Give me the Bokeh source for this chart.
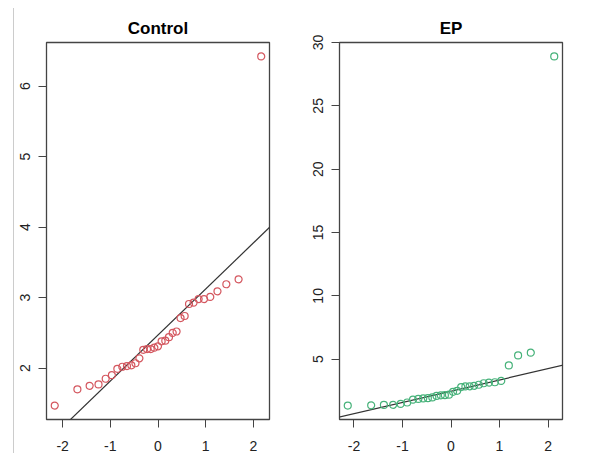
import numpy as np
from bokeh.plotting import figure
from bokeh.layouts import row
from bokeh.models import Div, FixedTicker
from bokeh.embed import file_html
from bokeh.resources import INLINE

# Control: theoretical normal quantiles (n=33) and sorted sample values
control_theoretical = [-2.166, -1.691, -1.434, -1.248, -1.097, -0.967, -0.853, -0.748, -0.651,
                       -0.559, -0.473, -0.390, -0.309, -0.230, -0.153, -0.076, 0.0, 0.076,
                       0.153, 0.230, 0.309, 0.390, 0.473, 0.559, 0.651, 0.748, 0.853, 0.967,
                       1.097, 1.248, 1.434, 1.691, 2.166]
control_sample = [1.47, 1.70, 1.75, 1.77, 1.85, 1.90, 1.99, 2.02, 2.03, 2.04, 2.07, 2.14,
                  2.26, 2.27, 2.27, 2.29, 2.31, 2.38, 2.39, 2.44, 2.50, 2.52, 2.71, 2.74,
                  2.91, 2.93, 2.98, 2.98, 3.01, 3.09, 3.19, 3.26, 6.42]

# EP: theoretical normal quantiles (n=30) and sorted sample values
ep_theoretical = [-2.128, -1.645, -1.383, -1.192, -1.036, -0.903, -0.783, -0.674, -0.573,
                  -0.477, -0.385, -0.297, -0.210, -0.126, -0.042, 0.042, 0.126, 0.210,
                  0.297, 0.385, 0.477, 0.573, 0.674, 0.783, 0.903, 1.036, 1.192, 1.383,
                  1.645, 2.128]
ep_sample = [1.34, 1.36, 1.39, 1.40, 1.47, 1.58, 1.80, 1.86, 1.90, 1.92, 1.98, 2.10, 2.15,
             2.16, 2.20, 2.42, 2.50, 2.80, 2.85, 2.86, 2.90, 2.98, 3.10, 3.15, 3.18, 3.28,
             4.51, 5.30, 5.51, 28.90]

x_ticks = [-2, -1, 0, 1, 2]
x_tick_labels = ["-2", "-1", "0", "1", "2"]
control_y_ticks = [2, 3, 4, 5, 6]
ep_y_ticks = [5, 10, 15, 20, 25, 30]

titles = ["Control", "EP"]
colors = ["#d4575f", "#47b27a"]

FONT = "Liberation Sans"


def r_range(vals):
    lo, hi = min(vals), max(vals)
    pad = (hi - lo) * 0.04
    return lo - pad, hi + pad


def qq_panel(title, xs, ys, color, yticks, width, bl, br):
    xr = r_range(xs)
    yr = r_range(ys)
    p = figure(width=width, height=453, x_range=xr, y_range=yr,
               output_backend="svg", toolbar_location=None, tools="",
               min_border_left=bl, min_border_right=br, min_border_top=42,
               min_border_bottom=33)
    p.title.text = title
    p.title.align = "center"
    p.title.text_font = FONT
    p.title.text_font_size = "17px"
    p.title.text_font_style = "bold"
    p.title.text_color = "#000000"
    p.title.offset = 0
    p.title.standoff = 9
    p.grid.visible = False
    p.background_fill_color = "white"
    p.border_fill_color = "white"
    p.outline_line_color = "#444444"
    p.outline_line_width = 1.3
    for ax in (p.xaxis[0], p.yaxis[0]):
        ax.axis_line_color = None
        ax.major_tick_line_color = "#444444"
        ax.major_tick_line_width = 1
        ax.major_tick_in = 0
        ax.major_tick_out = 8
        ax.minor_tick_line_color = None
        ax.major_label_text_font = FONT
        ax.major_label_text_font_size = "14px"
        ax.major_label_text_color = "#222222"
    p.xaxis.ticker = FixedTicker(ticks=x_ticks)
    p.xaxis.major_label_overrides = {t: lab for t, lab in zip(x_ticks, x_tick_labels)}
    p.yaxis.ticker = FixedTicker(ticks=yticks)
    p.xaxis.major_label_standoff = 13
    p.yaxis.major_label_standoff = 8
    p.yaxis.major_label_orientation = "vertical"

    # qqline through the first and third quartiles
    q1, q3 = np.percentile(ys, [25, 75])
    z1, z3 = -0.6744897501960817, 0.6744897501960817
    slope = (q3 - q1) / (z3 - z1)
    inter = q1 - slope * z1
    lx = [xr[0] - 1, xr[1] + 1]
    ly = [inter + slope * v for v in lx]
    p.line(lx, ly, line_color="#333333", line_width=1.2)

    p.scatter(xs, ys, marker="circle", size=7, fill_color=None,
              line_color=color, line_width=1.2)
    return p


p1 = qq_panel(titles[0], control_theoretical, control_sample, colors[0],
              control_y_ticks, 281, 32, 26)
p2 = qq_panel(titles[1], ep_theoretical, ep_sample, colors[1],
              ep_y_ticks, 294, 44, 27)

edge = Div(width=14, height=445, margin=0,
           styles={"border-right": "1px solid #cccccc", "margin-top": "8px",
                   "box-sizing": "border-box"})

layout = row(edge, p1, p2, spacing=0)

open("out.html", "w").write(file_html(layout, INLINE))
